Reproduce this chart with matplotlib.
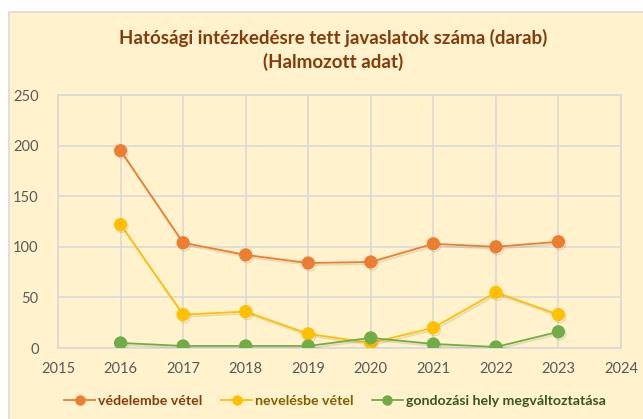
import matplotlib
matplotlib.use('AGG')

import matplotlib.pyplot as plt
import matplotlib.patheffects as pe
from matplotlib.patches import Rectangle

plt.rcParams['font.family'] = ['Lato', 'DejaVu Sans']

years = [2016, 2017, 2018, 2019, 2020, 2021, 2022, 2023]
vedelembe = [195, 104, 92, 84, 85, 103, 100, 105]
nevelesbe = [122, 33, 36, 14, 5, 20, 55, 33]
gondozasi = [5, 2, 2, 2, 10, 4, 1, 16]

series_names = ['védelembe vétel', 'nevelésbe vétel', 'gondozási hely megváltoztatása']
colors = ['#ED7D31', '#FFC000', '#70AD47']
text_colors = ['#843C0C', '#7F6000', '#375623']

W, H = 643, 419
fig = plt.figure(figsize=(W / 100, H / 100), dpi=100)
fig.patch.set_facecolor('white')

# cream panel behind the chart
panel = Rectangle((9 / W, -0.01), 1.0, (H - 12) / H + 0.01, transform=fig.transFigure,
                  facecolor='#FFF2CC', edgecolor='#D9D9D9', linewidth=1.2, zorder=-5)
fig.patches.append(panel)

ax = fig.add_axes([58 / W, (H - 348) / H, (621 - 58) / W, (348 - 95) / H])
ax.set_facecolor('#FFF2CC')

shadow = [pe.SimpleLineShadow(offset=(1, -1.5), alpha=0.18, shadow_color='#7f6a40'), pe.Normal()]
for vals, name, c in zip([vedelembe, nevelesbe, gondozasi], series_names, colors):
    ax.plot(years, vals, color=c, lw=1.3, marker='o', markersize=8.5,
            markeredgecolor=c, label=name, path_effects=shadow, zorder=3)

ax.set_xlim(2015, 2024)
ax.set_ylim(0, 250)
ax.set_xticks(range(2015, 2025))
ax.set_yticks(range(0, 251, 50))
ax.grid(True, color='#D9D9D9', lw=1.2)
ax.set_axisbelow(True)
for s in ax.spines.values():
    s.set_color('#D9D9D9')
    s.set_linewidth(1.2)
ax.tick_params(length=0, labelsize=10.5, colors='#595959', pad=10)
ax.tick_params(axis='y', pad=14)

fig.text(333 / W, (H - 38) / H, 'Hatósági intézkedésre tett javaslatok száma (darab)',
         ha='center', va='center', fontsize=13.5, fontweight='bold', color='#843C0C')
fig.text(333 / W, (H - 62) / H, '(Halmozott adat)',
         ha='center', va='center', fontsize=13.5, fontweight='bold', color='#843C0C')

leg = fig.legend(loc='center', bbox_to_anchor=(335 / W, (H - 401) / H), ncol=3,
                 frameon=False, handlelength=2.2, handletextpad=0.2,
                 columnspacing=1.3, prop={'weight': 'bold', 'size': 10.2})
for t, c in zip(leg.get_texts(), text_colors):
    t.set_color(c)
for h in leg.legend_handles:
    h.set_path_effects([])
    h.set_markersize(6.5)

fig.savefig('out.png', dpi=100, facecolor=fig.get_facecolor())
